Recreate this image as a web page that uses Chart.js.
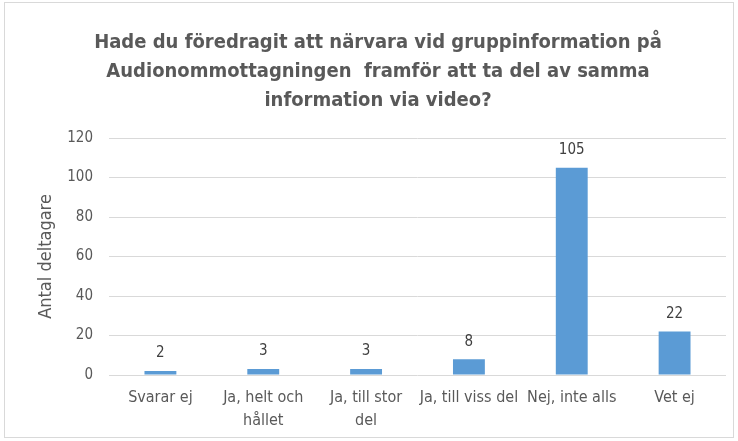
<!DOCTYPE html>
<html lang="sv">
<head>
<meta charset="UTF-8">
<title>Gruppinformation</title>
<script src="https://cdn.jsdelivr.net/npm/chart.js"></script>
<style>
    * { box-sizing: border-box; margin: 0; padding: 0; }
    body { background: #fff; width: 738px; height: 441px; overflow: hidden; }
    .frame {
        position: absolute;
        left: 4px; top: 2px;
        width: 730px; height: 436px;
        border: 1px solid #d9d9d9;
    }
    .chart-box { position: absolute; left: 0; top: 0; width: 738px; height: 441px; }
</style>
</head>
<body>
<div class="frame"></div>
<div class="chart-box"><canvas id="chart"></canvas></div>
<script>
const categories = ['Svarar ej', ['Ja, helt och', 'hållet'], ['Ja, till stor', 'del'], 'Ja, till viss del', 'Nej, inte alls', 'Vet ej'];
const participants = [2, 3, 3, 8, 105, 22];
const titleLines = ['Hade du föredragit att närvara vid gruppinformation på', 'Audionommottagningen  framför att ta del av samma', 'information via video?'];

const FONT = '"Liberation Sans Narrow", "DejaVu Sans Condensed", "Open Sans", sans-serif';
const TEXT = '#595959';

// simple value labels above the bars
const barLabels = {
    id: 'barLabels',
    afterDatasetsDraw(chart) {
        const ctx = chart.ctx;
        const meta = chart.getDatasetMeta(0);
        ctx.save();
        ctx.font = '15px ' + FONT;
        ctx.fillStyle = '#404040';
        ctx.textAlign = 'center';
        ctx.textBaseline = 'bottom';
        meta.data.forEach((bar, i) => {
            ctx.fillText(String(participants[i]), bar.x, bar.y - 10);
        });
        ctx.restore();
    }
};

new Chart(document.getElementById('chart'), {
    type: 'bar',
    data: {
        labels: categories,
        datasets: [{
            data: participants,
            backgroundColor: '#5B9BD5',
            barPercentage: 0.31,
            categoryPercentage: 1
        }]
    },
    options: {
        responsive: true,
        maintainAspectRatio: false,
        animation: false,
        layout: { padding: { top: 18, left: 30, right: 12, bottom: 0 } },
        plugins: {
            legend: { display: false },
            tooltip: { enabled: false },
            title: {
                display: true,
                text: titleLines,
                color: TEXT,
                font: { family: FONT, size: 20, weight: 'bold', lineHeight: 1.45 },
                padding: { top: 10, bottom: 23 }
            }
        },
        scales: {
            y: {
                min: 0,
                max: 120,
                afterFit(scale) { scale.width = 79; },
                ticks: { stepSize: 20, color: TEXT, font: { family: FONT, size: 15 }, padding: 16 },
                grid: { color: '#d9d9d9', lineWidth: 1, drawTicks: false },
                border: { display: false },
                title: {
                    display: true,
                    text: 'Antal deltagare',
                    color: TEXT,
                    font: { family: FONT, size: 18 },
                    padding: { top: 6, bottom: 0 }
                }
            },
            x: {
                afterFit(scale) { scale.height = 66; },
                ticks: { color: TEXT, font: { family: FONT, size: 16, lineHeight: 1.4 }, padding: 12, maxRotation: 0, autoSkip: false },
                grid: { display: false, drawTicks: false },
                border: { display: false }
            }
        }
    },
    plugins: [barLabels]
});
</script>
</body>
</html>
